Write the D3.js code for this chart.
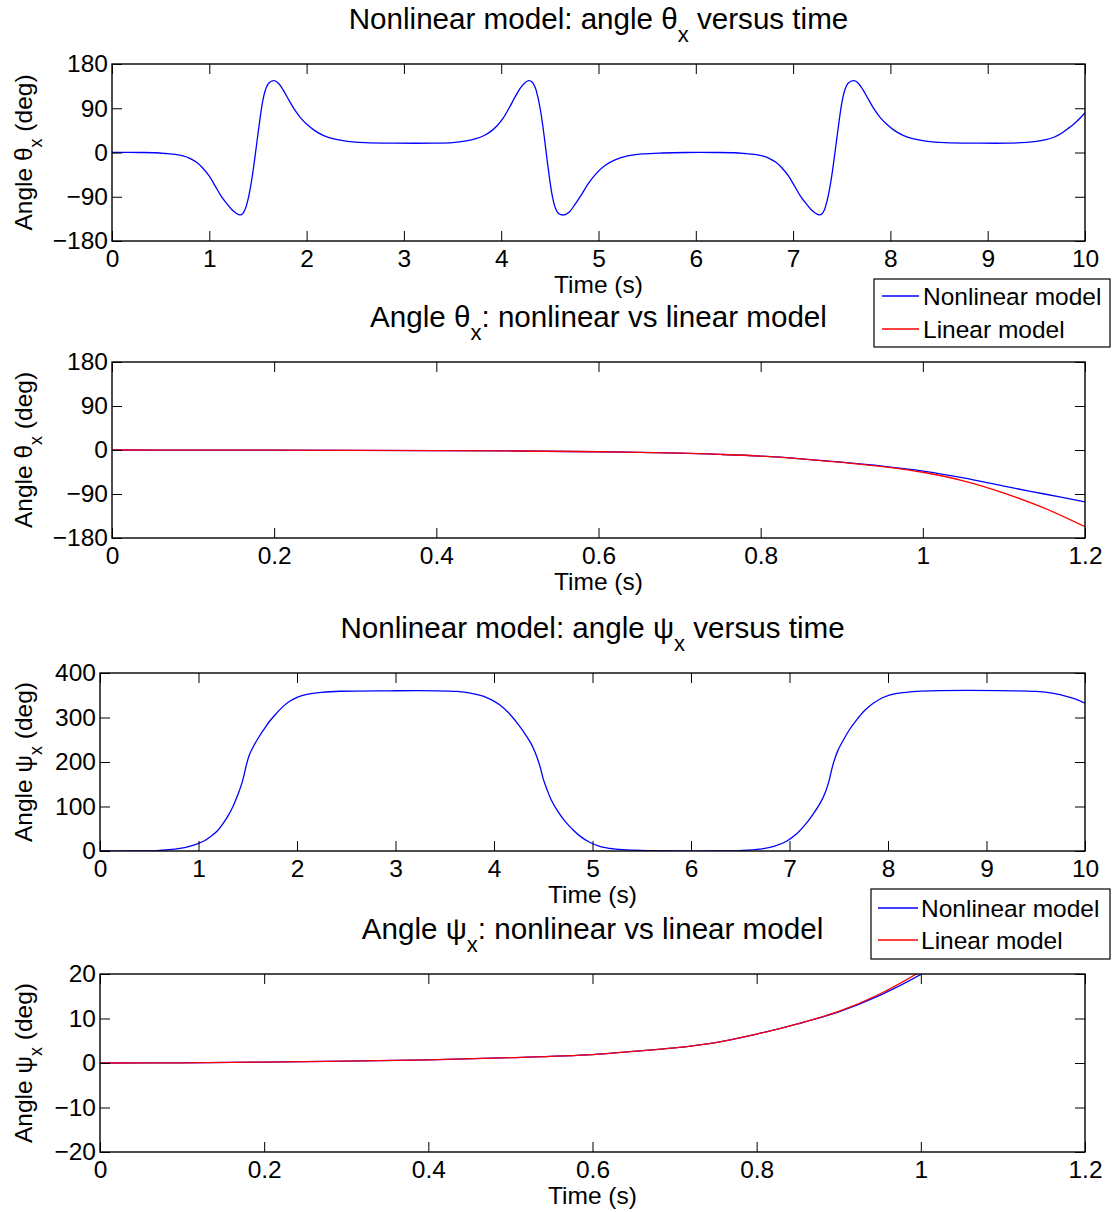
<!DOCTYPE html>
<html>
<head>
<meta charset="utf-8">
<script src="https://cdn.jsdelivr.net/npm/d3@7"></script>
<style>
  html, body { margin: 0; padding: 0; background: #fff; }
  svg { display: block; }
  text { font-family: "Liberation Sans", Arial, Helvetica, sans-serif; fill: #000; }
</style>
</head>
<body>
<svg id="chart" width="1113" height="1212"></svg>
<script>
// ---------------- DATA ----------------
// Panel 1: nonlinear model, theta_x (deg) vs time (s), 0..10 s
const thetaNLTime = [0, 0.3, 0.45, 0.55, 0.65, 0.73, 0.8, 0.87, 0.93, 1.0, 1.06, 1.12, 1.18, 1.23, 1.28, 1.316, 1.345, 1.37, 1.395, 1.42, 1.445, 1.47, 1.495, 1.52, 1.545, 1.575, 1.61, 1.665, 1.71, 1.76, 1.82, 1.88, 1.94, 2.0, 2.08, 2.17, 2.28, 2.42, 2.6, 2.9, 3.3,
  3.5, 3.64, 3.74, 3.82, 3.9, 3.96, 4.02, 4.08, 4.14, 4.2, 4.25, 4.286, 4.32, 4.35, 4.375, 4.4, 4.425, 4.45, 4.475, 4.5, 4.525, 4.555, 4.59, 4.645, 4.7, 4.76, 4.83, 4.9, 4.98, 5.07, 5.17, 5.3, 5.45, 5.65, 5.9, 6.2,
  6.4, 6.5, 6.6, 6.684, 6.754, 6.824, 6.884, 6.954, 7.014, 7.074, 7.134, 7.184, 7.234, 7.27, 7.3, 7.325, 7.35, 7.375, 7.4, 7.425, 7.45, 7.475, 7.5, 7.53, 7.565, 7.626, 7.67, 7.72, 7.78, 7.84, 7.9, 7.96, 8.04, 8.13, 8.24, 8.38, 8.56, 8.9, 9.2,
  9.4, 9.5, 9.6, 9.68, 9.75, 9.82, 9.88, 9.94, 10];
const thetaNLValues = [0, 0, -0.5, -2, -4, -7, -12, -20, -31, -48, -68, -88, -104, -116, -124, -127, -124, -115, -98, -74, -44, -8, 30, 67, 100, 126, 141, 146, 141, 127, 106, 86, 70, 58, 45, 35, 27.5, 22.5, 20, 19, 19,
  20, 23.5, 28, 34, 44, 55, 70, 90, 112, 132, 143, 146, 143, 132, 114, 90, 58, 20, -20, -57, -88, -112, -124, -127, -121, -105, -84, -62, -42, -26, -15, -7, -3, -1, 0, 0,
  -0.5, -2, -4, -7, -12, -20, -31, -48, -68, -88, -104, -116, -124, -127, -124, -115, -98, -74, -44, -8, 30, 67, 100, 126, 141, 146, 141, 127, 106, 86, 70, 58, 45, 35, 27.5, 22.5, 20, 19, 19,
  20.5, 22.5, 26, 31, 38, 48, 57, 68, 81];

// Panel 2: theta_x nonlinear vs linear, 0..1.2 s
const theta2Time = [0, 0.1, 0.2, 0.3, 0.4, 0.5, 0.6, 0.7, 0.75, 0.8, 0.85, 0.9, 0.95, 1.0, 1.05, 1.1, 1.15, 1.2];
const theta2Nonlinear = [0, -0.1, -0.3, -0.6, -1.1, -2, -3.6, -6.4, -9, -12.5, -18, -25, -33, -43, -57, -74, -90, -106];
const theta2Linear = [0, -0.1, -0.3, -0.6, -1.1, -2, -3.6, -6.4, -9, -12.5, -18, -25.5, -34, -45.5, -63, -88, -119, -157];

// Panel 3: nonlinear model, psi_x (deg) vs time (s), 0..10 s
const psiNLTime = [0, 0.3, 0.575, 0.7, 0.81, 0.9, 1.0, 1.06, 1.12, 1.19, 1.25, 1.3, 1.35, 1.4, 1.44, 1.47, 1.49, 1.52, 1.56, 1.61, 1.66, 1.72, 1.79, 1.86, 1.93, 2.0, 2.1, 2.25, 2.44, 2.94, 3.4, 3.62, 3.76, 3.89, 3.98, 4.06, 4.15, 4.23, 4.3, 4.37, 4.42, 4.47, 4.5, 4.535, 4.58, 4.64, 4.72, 4.8, 4.87, 4.975, 5.08, 5.21, 5.35, 5.55, 6.23, 6.5, 6.7, 6.85, 6.97, 7.07, 7.17, 7.24, 7.31, 7.36, 7.394, 7.42, 7.445, 7.49, 7.546, 7.61, 7.68, 7.76, 7.85, 7.95, 8.09, 8.25, 8.43, 9.27, 9.5, 9.68, 9.82, 9.92, 10];
const psiNLValues = [0, 0, 1, 3, 6, 10, 17, 23, 32, 45, 62, 79, 100, 127, 152, 178, 197, 218, 236, 255, 272, 291, 309, 325, 337, 345, 352, 356.5, 359, 360, 360, 358.5, 355, 348, 339, 328, 310, 289, 268, 244, 220, 188, 162, 140, 115, 92, 67, 48, 34, 19, 10, 5, 2.5, 1, 0, 1, 4, 11, 22, 38, 62, 83, 107, 130, 152, 175, 197, 225, 249, 273, 294, 315, 332, 345, 354, 358, 360, 360, 358.5, 354, 347, 340, 332];

// Panel 4: psi_x nonlinear vs linear, 0..1.2 s (lines leave the axes above 20 deg)
const psi2Time = [0, 0.1, 0.2, 0.3, 0.4, 0.5, 0.6, 0.65, 0.7, 0.75, 0.8, 0.85, 0.9, 0.95, 1.0, 1.05];
const psi2Nonlinear = [0, 0.05, 0.2, 0.4, 0.7, 1.2, 1.9, 2.6, 3.4, 4.6, 6.5, 8.8, 11.5, 15.2, 19.9, 25.5];
const psi2Linear = [0, 0.05, 0.2, 0.4, 0.7, 1.2, 1.9, 2.6, 3.4, 4.6, 6.5, 8.8, 11.6, 15.5, 20.6, 26.5];

// Tick values
const xTicksLong = [0, 1, 2, 3, 4, 5, 6, 7, 8, 9, 10];
const xTicksShort = [0, 0.2, 0.4, 0.6, 0.8, 1, 1.2];
const yTicksTheta = [-180, -90, 0, 90, 180];
const yTicksPsi = [0, 100, 200, 300, 400];
const yTicksPsi2 = [-20, -10, 0, 10, 20];

const seriesNames = ["Nonlinear model", "Linear model"];
const seriesColors = ["#0000ff", "#ff0000"];

// ---------------- LAYOUT ----------------
const svg = d3.select("#chart");
const FONT = 24.5;
const TITLE_FONT = 29.6;

const panels = [
  { left: 112, right: 1085, top: 64, bottom: 241, xDomain: [0, 10], yDomain: [-180, 180],
    xTicks: xTicksLong, yTicks: yTicksTheta, sym: "\u03B8",
    titlePre: "Nonlinear model: angle ", titlePost: " versus time",
    series: [{ t: thetaNLTime, v: thetaNLValues, c: 0 }], legend: null },
  { left: 112, right: 1085, top: 362, bottom: 538, xDomain: [0, 1.2], yDomain: [-180, 180],
    xTicks: xTicksShort, yTicks: yTicksTheta, sym: "\u03B8",
    titlePre: "Angle ", titlePost: ": nonlinear vs linear model",
    series: [{ t: theta2Time, v: theta2Nonlinear, c: 0 }, { t: theta2Time, v: theta2Linear, c: 1 }],
    legend: { x: 874, y: 279, w: 236, h: 68, lx1: 882, lx2: 919, tx: 923, rows: [296, 329] } },
  { left: 100, right: 1085, top: 673, bottom: 851, xDomain: [0, 10], yDomain: [0, 400],
    xTicks: xTicksLong, yTicks: yTicksPsi, sym: "\u03C8",
    titlePre: "Nonlinear model: angle ", titlePost: " versus time",
    series: [{ t: psiNLTime, v: psiNLValues, c: 0 }], legend: null },
  { left: 100, right: 1085, top: 974, bottom: 1152, xDomain: [0, 1.2], yDomain: [-20, 20],
    xTicks: xTicksShort, yTicks: yTicksPsi2, sym: "\u03C8",
    titlePre: "Angle ", titlePost: ": nonlinear vs linear model",
    series: [{ t: psi2Time, v: psi2Nonlinear, c: 0 }, { t: psi2Time, v: psi2Linear, c: 1 }],
    legend: { x: 871, y: 889, w: 239, h: 70, lx1: 878, lx2: 918, tx: 921, rows: [908, 940] } }
];

const fmtY = d => d < 0 ? "\u2212" + Math.abs(d) : String(d);
const fmtX = d => String(d);

panels.forEach((p, i) => {
  const W = p.right - p.left, H = p.bottom - p.top;
  const x = d3.scaleLinear().domain(p.xDomain).range([0, W]);
  const y = d3.scaleLinear().domain(p.yDomain).range([H, 0]);
  const g = svg.append("g").attr("transform", `translate(${p.left},${p.top})`);

  g.append("clipPath").attr("id", "clip" + i)
    .append("rect").attr("x", 0).attr("y", 0).attr("width", W).attr("height", H);

  // series
  const line = d3.line().x(d => x(d[0])).y(d => y(d[1])).curve(d3.curveCatmullRom.alpha(0.5));
  p.series.forEach(s => {
    const pts = s.t.map((t, k) => [t, s.v[k]]);
    g.append("path").attr("d", line(pts)).attr("fill", "none")
      .attr("stroke", seriesColors[s.c]).attr("stroke-width", 1.3)
      .attr("clip-path", `url(#clip${i})`);
  });

  // axes (ticks inward on all four sides)
  const styleAxis = sel => {
    sel.select(".domain").remove();
    sel.selectAll(".tick line").attr("stroke", "#000").attr("stroke-width", 1);
    sel.selectAll(".tick text").style("font-size", FONT + "px")
      .style("font-family", "'Liberation Sans', Arial, sans-serif").attr("fill", "#000");
  };
  g.append("g").attr("transform", `translate(0,${H})`)
    .call(d3.axisBottom(x).tickValues(p.xTicks).tickFormat(fmtX).tickSize(-10).tickSizeOuter(0).tickPadding(9))
    .call(styleAxis);
  g.append("g")
    .call(d3.axisTop(x).tickValues(p.xTicks).tickFormat("").tickSize(-10).tickSizeOuter(0))
    .call(styleAxis);
  g.append("g")
    .call(d3.axisLeft(y).tickValues(p.yTicks).tickFormat(fmtY).tickSize(-10).tickSizeOuter(0).tickPadding(4))
    .call(styleAxis);
  g.append("g").attr("transform", `translate(${W},0)`)
    .call(d3.axisRight(y).tickValues(p.yTicks).tickFormat("").tickSize(-10).tickSizeOuter(0))
    .call(styleAxis);

  g.append("rect").attr("x", 0).attr("y", 0).attr("width", W).attr("height", H)
    .attr("fill", "none").attr("stroke", "#000").attr("stroke-width", 1.4);

  // title
  const title = svg.append("text").attr("x", p.left + W / 2).attr("y", p.top - 35)
    .attr("text-anchor", "middle").style("font-size", TITLE_FONT + "px");
  title.append("tspan").text(p.titlePre + p.sym);
  title.append("tspan").text("x").style("font-size", "22px").attr("dy", 13);
  title.append("tspan").text(p.titlePost).attr("dy", -13);

  // x label
  svg.append("text").attr("x", p.left + W / 2).attr("y", p.bottom + 52)
    .attr("text-anchor", "middle").style("font-size", FONT + "px").text("Time (s)");

  // y label
  const yl = svg.append("text")
    .attr("transform", `translate(32,${p.top + H / 2}) rotate(-90)`)
    .attr("text-anchor", "middle").style("font-size", FONT + "px");
  yl.append("tspan").text("Angle " + p.sym);
  yl.append("tspan").text("x").style("font-size", "18px").attr("dy", 10);
  yl.append("tspan").text(" (deg)").attr("dy", -10);

  // legend
  if (p.legend) {
    const L = p.legend;
    svg.append("rect").attr("x", L.x).attr("y", L.y).attr("width", L.w).attr("height", L.h)
      .attr("fill", "#fff").attr("stroke", "#000").attr("stroke-width", 1.2);
    seriesNames.forEach((name, k) => {
      svg.append("line").attr("x1", L.lx1).attr("x2", L.lx2).attr("y1", L.rows[k]).attr("y2", L.rows[k])
        .attr("stroke", seriesColors[k]).attr("stroke-width", 1.3);
      svg.append("text").attr("x", L.tx).attr("y", L.rows[k] + 9)
        .style("font-size", FONT + "px").text(name);
    });
  }
});
</script>
</body>
</html>
